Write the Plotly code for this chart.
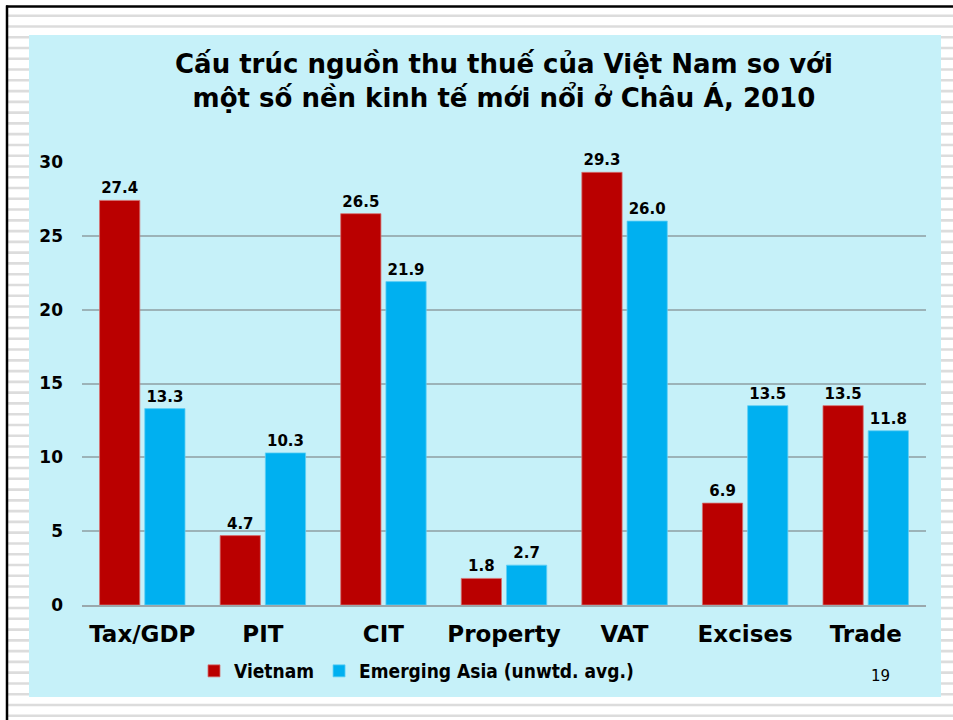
import plotly.graph_objects as go

categories = ["Tax/GDP", "PIT", "CIT", "Property", "VAT", "Excises", "Trade"]
vietnam = [27.4, 4.7, 26.5, 1.8, 29.3, 6.9, 13.5]
emerging_asia = [13.3, 10.3, 21.9, 2.7, 26.0, 13.5, 11.8]
y_ticks = [0, 5, 10, 15, 20, 25, 30]

title_text = "Cấu trúc nguồn thu thuế của Việt Nam so với<br>một số nền kinh tế mới nổi ở Châu Á, 2010"

W, H = 953, 720
L, R, T, B = 82, 27, 162, 115
PW, PH = W - L - R, H - T - B

def px_x(x):
    return (x - L) / PW

def px_y(y):
    return (H - B - y) / PH

FONT = "DejaVu Sans"
RED = "#BA0000"
CYAN = "#00B0F0"

fig = go.Figure()
fig.add_trace(go.Bar(
    x=categories, y=vietnam, name="Vietnam",
    marker=dict(color=RED, line=dict(color="#D77070", width=0.8)),
    text=[f"{v:.1f}" for v in vietnam], textposition="outside",
    textfont=dict(family=FONT, size=15, color="black", weight="bold"),
    cliponaxis=False, constraintext="none",
))
fig.add_trace(go.Bar(
    x=categories, y=emerging_asia, name="Emerging Asia (unwtd. avg.)",
    marker=dict(color=CYAN, line=dict(color="#60CFF5", width=0.8)),
    text=[f"{v:.1f}" for v in emerging_asia], textposition="outside",
    textfont=dict(family=FONT, size=15, color="black", weight="bold"),
    cliponaxis=False, constraintext="none",
))

# slide background: striped paper, black frame, cyan panel
shapes = []
y = 15.7
while y < H:
    shapes.append(dict(type="rect", xref="paper", yref="paper", layer="below",
                       x0=px_x(8), x1=px_x(W), y0=px_y(y - 1.3), y1=px_y(y + 1.3),
                       fillcolor="#DCDCDC", line=dict(width=0)))
    y += 10.77
shapes.append(dict(type="rect", xref="paper", yref="paper", layer="below",
                   x0=px_x(29), x1=px_x(941), y0=px_y(35), y1=px_y(697),
                   fillcolor="#C6F1F9", line=dict(width=0)))
shapes.append(dict(type="line", xref="paper", yref="paper", layer="below",
                   x0=px_x(6), x1=px_x(W), y0=px_y(6.5), y1=px_y(6.5),
                   line=dict(color="black", width=2.5)))
shapes.append(dict(type="line", xref="paper", yref="paper", layer="below",
                   x0=px_x(7), x1=px_x(7), y0=px_y(5.5), y1=px_y(H),
                   line=dict(color="black", width=2.5)))

fig.update_layout(
    width=W, height=H,
    margin=dict(l=L, r=R, t=T, b=B),
    paper_bgcolor="white",
    plot_bgcolor="rgba(0,0,0,0)",
    barmode="group", bargap=0.25, bargroupgap=0.11,
    shapes=shapes,
    showlegend=True,
    legend=dict(orientation="h", x=px_x(194), xanchor="left", y=px_y(671), yanchor="middle",
                font=dict(family="DejaVu Sans Condensed", size=19, color="black", weight="bold"),
                bgcolor="rgba(0,0,0,0)", itemwidth=30, tracegroupgap=0),
    annotations=[
        dict(text=title_text, xref="paper", yref="paper", x=px_x(504), y=px_y(81),
             xanchor="center", yanchor="middle", showarrow=False,
             font=dict(family=FONT, size=26, color="black", weight="bold")),
        dict(text="19", xref="paper", yref="paper", x=px_x(880), y=px_y(676),
             xanchor="center", yanchor="middle", showarrow=False,
             font=dict(family=FONT, size=15, color="black")),
    ],
)
fig.update_xaxes(
    showgrid=False, showline=True, linecolor="#9AA8AC", linewidth=1.5,
    ticks="", ticklabelstandoff=8,
    tickfont=dict(family=FONT, size=23, color="black", weight="bold"),
)
fig.update_yaxes(
    range=[0, 30], tickvals=y_ticks, showgrid=True, gridcolor="#9CB3B8", gridwidth=1.5,
    zeroline=False, showline=False, ticks="", ticklabelstandoff=18,
    tickfont=dict(family=FONT, size=17, color="black", weight="bold"),
)

fig.write_html("out.html", config={"displayModeBar": False},
               post_script="document.body.style.margin='0px';")
